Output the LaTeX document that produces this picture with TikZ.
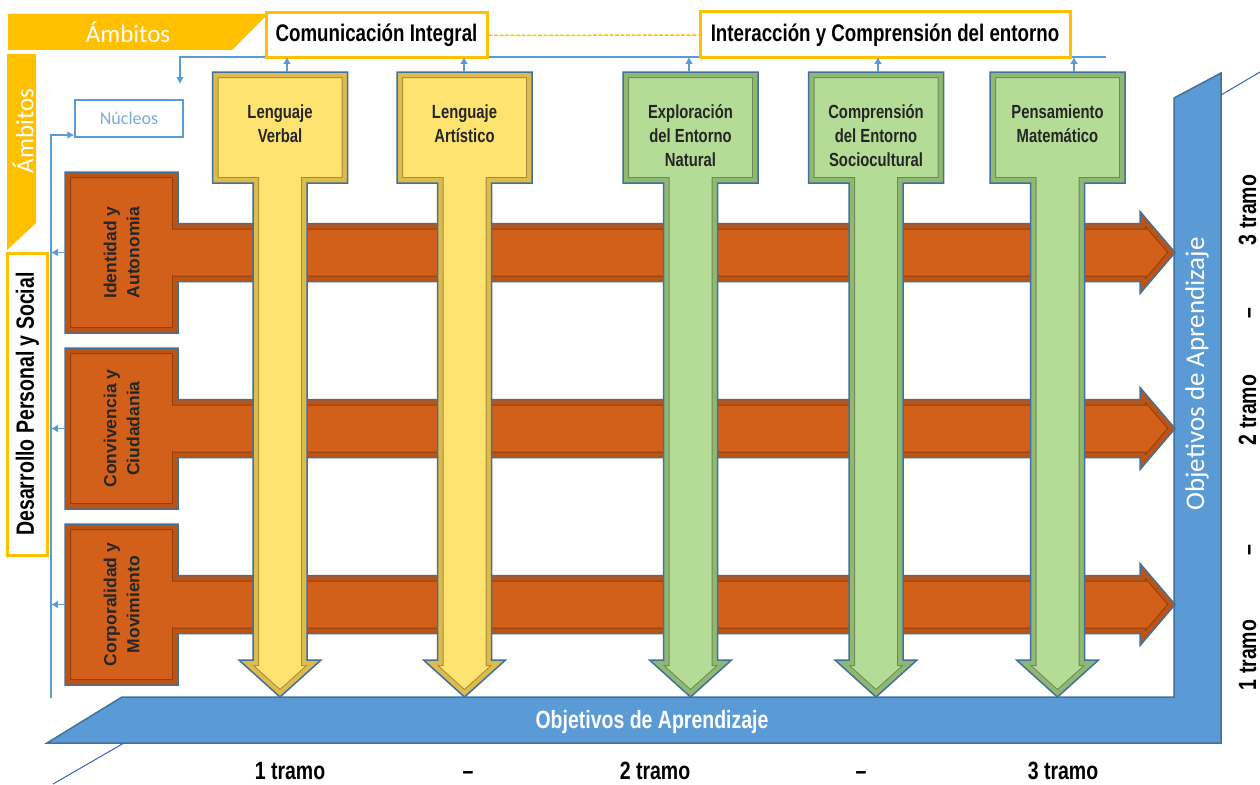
\documentclass[tikz,border=0pt]{standalone}
\usepackage{fontspec}
\setmainfont{Liberation Sans}
\newfontfamily\narrowfont{Liberation Sans}[FakeStretch=0.78]
\newfontfamily\calfont{Carlito}
\usetikzlibrary{arrows.meta}

\definecolor{amber}{HTML}{FFC000}
\definecolor{rowfill}{HTML}{D2601A}
\definecolor{rowbevel}{HTML}{BD5414}
\definecolor{yelfill}{HTML}{FFE370}
\definecolor{yelbevel}{HTML}{DDBB4C}
\definecolor{grnfill}{HTML}{B5DC97}
\definecolor{grnbevel}{HTML}{90B872}
\definecolor{band}{HTML}{5B9BD5}
\definecolor{edge}{HTML}{41719C}
\definecolor{nucleo}{HTML}{7EA9DA}
\definecolor{thinblue}{HTML}{3463C4}

\tikzstyle{conn}=[band, line width=1.5pt, -{Latex[length=7pt,width=8pt]}]
\tikzstyle{thinline}=[thinblue, line width=1pt]
\tikzstyle{title}=[draw=amber, line width=3pt, fill=white, inner sep=0pt, font=\narrowfont\bfseries\fontsize{24}{28}\selectfont]
\tikzstyle{coltext}=[minimum width=135pt, minimum height=111pt, inner sep=0pt, align=center, text height=39pt, text depth=10pt, text=black!85, font=\narrowfont\bfseries\fontsize{19}{24}\selectfont]
\tikzstyle{rowtext}=[rotate=90, minimum width=161pt, minimum height=113pt, inner sep=0pt, align=center, text=black!85, font=\bfseries\fontsize{17.5}{23}\selectfont]
\tikzstyle{tramo}=[inner sep=0pt, anchor=base, font=\narrowfont\bfseries\fontsize{25}{30}\selectfont]

% bevelled shape: #1 fill, #2 bevel colour, #3 path
\newcommand{\bevelfill}[3]{%
  \fill[#1] #3;
  \begin{scope}
    \clip #3;
    \draw[line width=12pt, #2!75!black] #3;
    \draw[line width=10pt, #2] #3;
  \end{scope}
  \draw[edge, line width=1.5pt] #3;}
% column arrow: #1 centre x, #2 fill, #3 bevel
\newcommand{\colarrow}[3]{%
  \bevelfill{#2}{#3}{(#1-67.5,72) -- (#1+67.5,72) -- (#1+67.5,183) -- (#1+27,183) -- (#1+27,660) -- (#1+41,660) -- (#1,697) -- (#1-41,660) -- (#1-27,660) -- (#1-27,183) -- (#1-67.5,183) -- cycle}}
% row arrow: #1 centre y
\newcommand{\rowarrow}[1]{%
  \bevelfill{rowfill}{rowbevel}{(65,#1-80.5) -- (178,#1-80.5) -- (178,#1-29) -- (1140,#1-29) -- (1140,#1-41) -- (1175,#1) -- (1140,#1+41) -- (1140,#1+29) -- (178,#1+29) -- (178,#1+80.5) -- (65,#1+80.5) -- cycle}}

\begin{document}
\begin{tikzpicture}[x=1pt, y=-1pt]
\useasboundingbox (0,0) rectangle (1260,784);
% Ambitos bands
    \fill[amber] (8,14) -- (268,14) -- (232,50) -- (8,50) -- cycle;
    \fill[amber] (7,54) -- (36,54) -- (36,223) -- (7,250) -- cycle;
    \node[text=white, font=\calfont\fontsize{25}{28}\selectfont] (ambh) at (128,32) {Ámbitos};
    \node[rotate=90, text=white, font=\calfont\fontsize{25}{28}\selectfont] (ambv) at (23,131) {Ámbitos};
% Top guide line
    \coordinate (tlR) at (1106,57);
    \coordinate (tlL) at (180,57);
    \coordinate (tlD) at (180,84);
    \draw[conn] (tlR) -- (tlL) -- (tlD);
% Objetivos band
    \filldraw[fill=band, draw=edge, line width=1.5pt] (122,697) -- (1174,697) -- (1174,98) -- (1221,73) -- (1221,743) -- (47,743) -- cycle;
    \draw[thinline] (1221,95) -- (1260,72);
    \draw[thinline] (124,743) -- (53,784);
    \node[text=white, font=\narrowfont\bfseries\fontsize{25}{30}\selectfont] (objh) at (652,722) {Objetivos de Aprendizaje};
    \node[rotate=90, text=white, font=\calfont\fontsize{27}{30}\selectfont] (objv) at (1197,374) {Objetivos de Aprendizaje};
% Nucleo rows
    \rowarrow{252.5}
    \rowarrow{428.5}
    \rowarrow{604.5}
% Nucleo columns
    \colarrow{280}{yelfill}{yelbevel}
    \colarrow{464.5}{yelfill}{yelbevel}
    \colarrow{690.5}{grnfill}{grnbevel}
    \colarrow{876}{grnfill}{grnbevel}
    \colarrow{1057.5}{grnfill}{grnbevel}
% Ambito titles
    \node[title, minimum width=221pt, minimum height=45pt] (comint) at (376.5,35.5) {Comunicación Integral};
    \node[title, minimum width=370pt, minimum height=46pt] (interaccion) at (885,35) {Interacción y Comprensión del entorno};
    \node[title, rotate=90, minimum width=302pt, minimum height=40pt, font=\narrowfont\bfseries\fontsize{25}{28}\selectfont] (dps) at (27.5,404) {Desarrollo Personal y Social};
    \draw[amber, line width=1.5pt, dash pattern=on 4pt off 1.5pt] (comint.east) -- (interaccion.west);
    \node[draw=band, line width=1.5pt, minimum width=108pt, minimum height=37pt, inner sep=0pt, text=nucleo, font=\calfont\fontsize{18}{20}\selectfont] (nucleos) at (129,118.5) {Núcleos};
% Nucleo labels
    \node[coltext] (verbal) at (280,127.5) {Lenguaje\\Verbal};
    \node[coltext] (artistico) at (464.5,127.5) {Lenguaje\\Artístico};
    \node[coltext, text height=87pt] (natural) at (690.5,127.5) {Exploración\\del Entorno\\Natural};
    \node[coltext, text height=87pt] (socio) at (876,127.5) {Comprensión\\del Entorno\\Sociocultural};
    \node[coltext] (mate) at (1057.5,127.5) {Pensamiento\\Matemático};
    \node[rowtext] (identidad) at (121.5,252.5) {Identidad y\\Autonomia};
    \node[rowtext] (convivencia) at (121.5,428.5) {Convivencia y\\Ciudadania};
    \node[rowtext] (corporal) at (121.5,604.5) {Corporalidad y\\Movimiento};
% Links to the ambitos
    \coordinate (verbalup) at (287,57);
    \coordinate (artisticoup) at (464,57);
    \coordinate (naturalup) at (689,57);
    \coordinate (socioup) at (878,57);
    \coordinate (mateup) at (1074,57);
    \draw[conn] (verbalup |- verbal.north) -- (verbalup);
    \draw[conn] (artisticoup |- artistico.north) -- (artisticoup);
    \draw[conn] (naturalup |- natural.north) -- (naturalup);
    \draw[conn] (socioup |- socio.north) -- (socioup);
    \draw[conn] (mateup |- mate.north) -- (mateup);
    \coordinate (llB) at (51,698);
    \coordinate (llT) at (51,135);
    \draw[conn] (llB) -- (llT) -- (llT -| nucleos.west);
    \draw[conn] (identidad.north) -- (identidad.north -| llB);
    \draw[conn] (convivencia.north) -- (convivencia.north -| llB);
    \draw[conn] (corporal.north) -- (corporal.north -| llB);
% Tramos
    \node[tramo] (b1) at (290,779) {1 tramo};
    \node[tramo] (b2) at (468,779) {–};
    \node[tramo] (b3) at (655,779) {2 tramo};
    \node[tramo] (b4) at (861,779) {–};
    \node[tramo] (b5) at (1063,779) {3 tramo};
    \node[tramo, rotate=90] (r1) at (1256,655) {1 tramo};
    \node[tramo, rotate=90] (r2) at (1256,550) {–};
    \node[tramo, rotate=90] (r3) at (1256,410) {2 tramo};
    \node[tramo, rotate=90] (r4) at (1256,313) {–};
    \node[tramo, rotate=90] (r5) at (1256,210) {3 tramo};
\end{tikzpicture}
\end{document}
